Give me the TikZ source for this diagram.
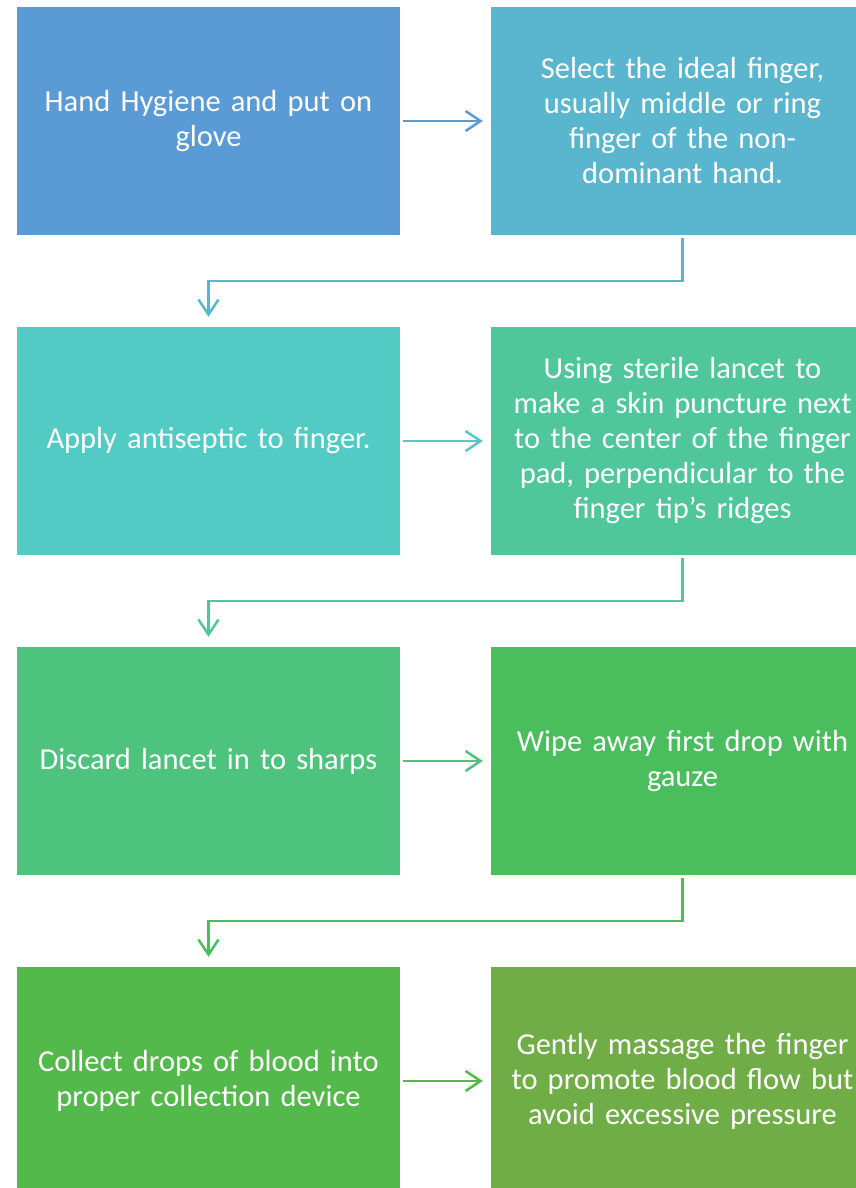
\documentclass[tikz,border=0pt]{standalone}
\usepackage{fontspec}
\setmainfont{Carlito}
\usetikzlibrary{arrows.meta}
\definecolor{cA}{HTML}{5B9BD5}
\definecolor{cB}{HTML}{5AB6CF}
\definecolor{cC}{HTML}{52CBC4}
\definecolor{cD}{HTML}{4FC79A}
\definecolor{cE}{HTML}{4EC37E}
\definecolor{cF}{HTML}{4ABD5C}
\definecolor{cG}{HTML}{53B94A}
\definecolor{cH}{HTML}{70AD47}
\tikzset{
  stepbox/.style={draw=none, minimum width=383pt, minimum height=228pt, inner sep=0pt,
    text width=375pt, align=center, text=white, font=\fontsize{30.5}{35}\selectfont},
  arr/.style={line width=2.5pt, -{Straight Barb[length=15pt,width=20pt]}, shorten <=3pt, shorten >=8pt},
  elb/.style={line width=2.5pt, -{Straight Barb[length=15pt,width=20pt]}, shorten <=3pt, shorten >=10pt}
}
\begin{document}
\begin{tikzpicture}[x=1pt,y=-1pt]
\useasboundingbox (0,0) rectangle (856,1188);
\clip (0,0) rectangle (856,1188);
\fill[white] (0,0) rectangle (856,1188);
\node[stepbox, fill=cA] (b1) at (208.5,121) {Hand Hygiene and put on\\glove};
\node[stepbox, fill=cB] (b2) at (682.5,121) {Select the ideal finger,\\usually middle or ring\\finger of the non-\\dominant hand.};
\node[stepbox, fill=cC] (b3) at (208.5,441) {Apply antiseptic to finger.};
\node[stepbox, fill=cD] (b4) at (682.5,441) {Using sterile lancet to\\make a skin puncture next\\to the center of the finger\\pad, perpendicular to the\\finger tip’s ridges};
\node[stepbox, fill=cE] (b5) at (208.5,761) {Discard lancet in to sharps};
\node[stepbox, fill=cF] (b6) at (682.5,761) {Wipe away first drop with\\gauze};
\node[stepbox, fill=cG] (b7) at (208.5,1081) {Collect drops of blood into\\proper collection device};
\node[stepbox, fill=cH] (b8) at (682.5,1081) {Gently massage the finger\\to promote blood flow but\\avoid excessive pressure};
\draw[arr, draw=cA] (b1.east) -- (b2.west);
\draw[arr, draw=cC] (b3.east) -- (b4.west);
\draw[arr, draw=cE] (b5.east) -- (b6.west);
\draw[arr, draw=cG] (b7.east) -- (b8.west);
\draw[elb, draw=cB] (b2.south) -- ++(0,46) -| (b3.north);
\draw[elb, draw=cD] (b4.south) -- ++(0,46) -| (b5.north);
\draw[elb, draw=cF] (b6.south) -- ++(0,46) -| (b7.north);
\end{tikzpicture}
\end{document}
